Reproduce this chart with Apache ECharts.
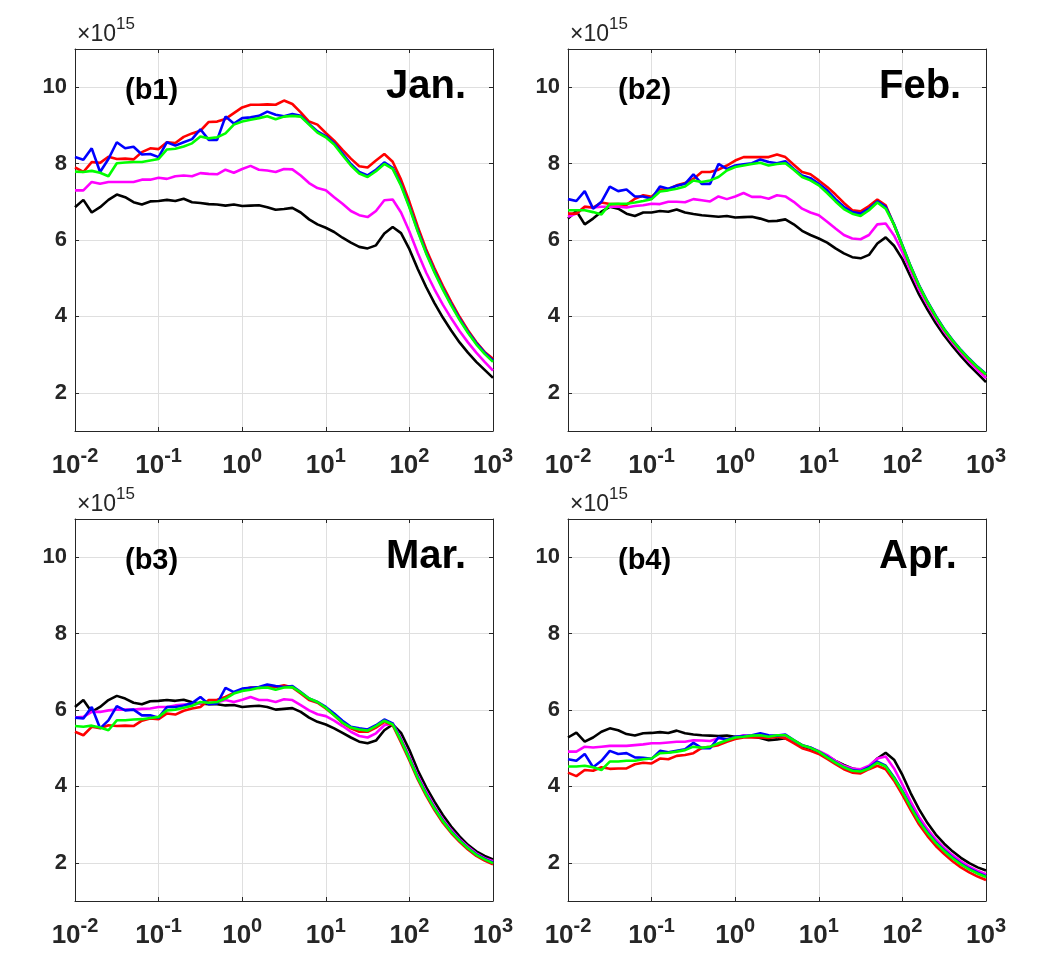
<!DOCTYPE html>
<html>
<head>
<meta charset="utf-8">
<script src="https://cdn.jsdelivr.net/npm/echarts@6/dist/echarts.min.js"></script>
<style>html,body{margin:0;padding:0;background:#fff}#c{width:1050px;height:960px}</style>
</head>
<body>
<div id="c"></div>
<script>
// sample grid: 10 points per decade from 10^-2 to 10^3 (exponents)
const freqExponents = Array.from({length: 51}, (_, k) => -2 + k / 10);
const yTicks = [2, 4, 6, 8, 10];
const panelTags = ['(b1)', '(b2)', '(b3)', '(b4)'];
const monthNames = ['Jan.', 'Feb.', 'Mar.', 'Apr.'];
const seriesKeys = ['black', 'magenta', 'red', 'blue', 'green'];
const seriesColors = {black: '#000000', magenta: '#ff00ff', red: '#ff0000', blue: '#0000ff', green: '#00ff00'};

// values in units of 1e15
const janRed = [7.9,7.78,8.04,8.02,8.18,8.12,8.13,8.11,8.3,8.4, 8.38,8.56,8.54,8.7,8.79,8.86,9.09,9.1,9.17,9.32, 9.47,9.54,9.54,9.55,9.54,9.65,9.56,9.34,9.1,9.02, 8.8,8.6,8.36,8.13,7.93,7.9,8.08,8.25,8.05,7.58, 7.0,6.35,5.76,5.26,4.8,4.38,3.99,3.64,3.33,3.07,2.89];
const janBlue = [8.17,8.1,8.4,7.78,8.12,8.56,8.4,8.44,8.24,8.25, 8.17,8.56,8.47,8.56,8.64,8.9,8.62,8.62,9.23,9.05, 9.19,9.21,9.25,9.36,9.28,9.24,9.3,9.25,9.04,8.84, 8.72,8.53,8.26,7.99,7.78,7.69,7.84,8.03,7.89,7.45, 6.88,6.25,5.68,5.18,4.73,4.32,3.94,3.6,3.3,3.05,2.84];
const janGreen = [7.79,7.78,7.81,7.76,7.67,8.01,8.03,8.04,8.04,8.08, 8.12,8.37,8.39,8.45,8.53,8.71,8.66,8.69,8.79,9.02, 9.1,9.15,9.19,9.24,9.16,9.23,9.25,9.23,9.02,8.81, 8.69,8.5,8.22,7.95,7.74,7.65,7.8,7.99,7.86,7.42, 6.85,6.22,5.65,5.15,4.7,4.29,3.91,3.57,3.27,3.02,2.81];
const janMagenta = [7.3,7.3,7.52,7.47,7.52,7.52,7.52,7.52,7.58,7.58, 7.63,7.6,7.67,7.69,7.67,7.75,7.73,7.72,7.84,7.76, 7.86,7.94,7.84,7.82,7.78,7.86,7.85,7.69,7.49,7.36, 7.3,7.12,6.95,6.76,6.65,6.6,6.76,7.04,7.06,6.72, 6.22,5.66,5.15,4.71,4.31,3.95,3.62,3.32,3.05,2.81,2.58];
const janBlack = [6.86,7.05,6.72,6.86,7.05,7.19,7.12,6.99,6.93,7.01, 7.02,7.05,7.02,7.08,6.99,6.97,6.94,6.93,6.9,6.93, 6.89,6.9,6.91,6.86,6.79,6.81,6.84,6.72,6.54,6.41, 6.32,6.21,6.06,5.93,5.82,5.78,5.86,6.17,6.34,6.18, 5.76,5.24,4.77,4.35,3.97,3.63,3.32,3.05,2.81,2.6,2.39];

const febRed = [6.69,6.69,6.87,6.85,6.98,6.94,6.94,6.92,7.08,7.17, 7.13,7.32,7.33,7.43,7.49,7.6,7.78,7.78,7.84,7.95, 8.08,8.17,8.17,8.17,8.17,8.24,8.17,7.97,7.78,7.72, 7.56,7.39,7.19,6.97,6.78,6.75,6.89,7.06,6.91,6.39, 5.84,5.29,4.79,4.37,3.99,3.65,3.36,3.1,2.87,2.66,2.47];
const febBlue = [7.07,7.02,7.28,6.82,7.0,7.4,7.28,7.32,7.14,7.14, 7.08,7.4,7.34,7.42,7.47,7.72,7.47,7.47,7.99,7.86, 7.95,7.98,8.01,8.11,8.04,8.01,8.06,7.86,7.69,7.62, 7.47,7.3,7.07,6.87,6.73,6.69,6.82,7.01,6.87,6.41, 5.86,5.31,4.81,4.39,4.01,3.67,3.38,3.12,2.89,2.68,2.49];
const febGreen = [6.78,6.78,6.78,6.73,6.67,6.94,6.95,6.95,6.98,7.02, 7.07,7.27,7.3,7.34,7.4,7.56,7.52,7.56,7.65,7.82, 7.91,7.95,7.99,8.02,7.95,7.99,8.01,7.84,7.65,7.56, 7.43,7.23,7.01,6.81,6.69,6.63,6.78,6.98,6.82,6.4, 5.85,5.3,4.8,4.38,4.0,3.66,3.37,3.11,2.88,2.67,2.48];
const febMagenta = [6.61,6.69,6.87,6.85,6.87,6.87,6.87,6.85,6.89,6.91, 6.95,6.94,7.0,7.0,6.99,7.07,7.04,7.01,7.14,7.07, 7.14,7.23,7.13,7.13,7.08,7.17,7.14,7.0,6.82,6.72, 6.65,6.48,6.3,6.13,6.04,6.02,6.13,6.41,6.43,6.12, 5.68,5.18,4.7,4.3,3.93,3.6,3.31,3.05,2.81,2.59,2.38];
const febBlack = [6.56,6.76,6.41,6.56,6.74,6.87,6.82,6.69,6.63,6.72, 6.72,6.76,6.74,6.8,6.72,6.68,6.65,6.63,6.61,6.63, 6.59,6.6,6.61,6.56,6.49,6.5,6.54,6.41,6.24,6.13, 6.04,5.93,5.78,5.65,5.55,5.52,5.61,5.91,6.07,5.85, 5.5,5.03,4.57,4.18,3.82,3.5,3.22,2.96,2.72,2.5,2.28];

const marRed = [5.43,5.34,5.56,5.52,5.6,5.58,5.59,5.58,5.72,5.78, 5.76,5.91,5.88,5.98,6.04,6.08,6.26,6.27,6.34,6.45, 6.53,6.59,6.58,6.6,6.6,6.65,6.59,6.43,6.26,6.19, 6.04,5.86,5.66,5.52,5.43,5.43,5.54,5.69,5.6,5.15, 4.68,4.18,3.76,3.38,3.05,2.78,2.55,2.35,2.18,2.06,1.96];
const marBlue = [5.8,5.78,6.08,5.52,5.73,6.1,5.99,6.01,5.86,5.86, 5.8,6.08,6.08,6.12,6.18,6.34,6.15,6.17,6.58,6.47, 6.56,6.58,6.6,6.67,6.63,6.6,6.63,6.47,6.3,6.21, 6.08,5.91,5.72,5.56,5.52,5.49,5.6,5.75,5.65,5.21, 4.73,4.23,3.81,3.43,3.1,2.82,2.59,2.39,2.22,2.1,2.0];
const marGreen = [5.58,5.56,5.59,5.54,5.47,5.73,5.73,5.75,5.76,5.79, 5.82,5.99,6.01,6.06,6.11,6.21,6.19,6.21,6.3,6.43, 6.5,6.53,6.58,6.59,6.53,6.59,6.6,6.46,6.3,6.21, 6.06,5.86,5.67,5.54,5.49,5.46,5.58,5.72,5.62,5.2, 4.72,4.22,3.8,3.42,3.09,2.81,2.58,2.38,2.21,2.09,1.99];
const marMagenta = [5.8,5.82,5.95,5.95,5.99,6.01,6.01,6.01,6.03,6.04, 6.08,6.08,6.12,6.14,6.14,6.17,6.19,6.2,6.26,6.21, 6.27,6.34,6.26,6.26,6.21,6.28,6.26,6.13,5.99,5.89, 5.84,5.72,5.58,5.43,5.32,5.28,5.39,5.6,5.65,5.25, 4.78,4.28,3.86,3.47,3.14,2.86,2.62,2.42,2.25,2.12,2.04];
const marBlack = [6.08,6.26,5.95,6.08,6.26,6.37,6.3,6.19,6.15,6.23, 6.24,6.26,6.24,6.27,6.2,6.17,6.15,6.15,6.12,6.13, 6.08,6.1,6.11,6.08,6.01,6.03,6.05,5.95,5.8,5.69, 5.62,5.52,5.4,5.28,5.17,5.13,5.2,5.47,5.62,5.4, 4.95,4.42,3.98,3.6,3.25,2.95,2.69,2.47,2.3,2.18,2.09];

const aprRed = [4.36,4.27,4.43,4.41,4.5,4.46,4.47,4.47,4.58,4.62, 4.6,4.73,4.71,4.8,4.82,4.87,5.01,5.04,5.08,5.17, 5.24,5.28,5.28,5.28,5.27,5.3,5.26,5.13,5.0,4.93, 4.85,4.72,4.58,4.45,4.36,4.34,4.45,4.54,4.45,4.15, 3.78,3.38,3.0,2.7,2.44,2.23,2.04,1.88,1.75,1.64,1.55];
const aprBlue = [4.71,4.67,4.85,4.5,4.67,4.93,4.85,4.87,4.76,4.75, 4.72,4.93,4.89,4.93,4.97,5.14,5.0,5.0,5.28,5.23, 5.3,5.32,5.34,5.39,5.34,5.33,5.36,5.21,5.08,5.02, 4.91,4.78,4.63,4.5,4.43,4.4,4.5,4.65,4.54,4.24, 3.88,3.48,3.1,2.8,2.54,2.33,2.14,1.98,1.85,1.74,1.65];
const aprGreen = [4.52,4.52,4.54,4.5,4.43,4.65,4.65,4.67,4.67,4.71, 4.73,4.87,4.88,4.91,4.95,5.04,5.01,5.04,5.13,5.21, 5.28,5.3,5.33,5.34,5.3,5.34,5.34,5.21,5.08,5.01, 4.91,4.76,4.62,4.5,4.41,4.39,4.47,4.62,4.52,4.22, 3.86,3.46,3.08,2.78,2.52,2.31,2.12,1.96,1.83,1.72,1.63];
const aprMagenta = [4.91,4.91,5.04,5.02,5.04,5.06,5.06,5.06,5.08,5.1, 5.13,5.13,5.15,5.17,5.17,5.21,5.2,5.19,5.26,5.23, 5.28,5.34,5.3,5.3,5.28,5.32,5.3,5.2,5.08,5.01, 4.93,4.82,4.67,4.54,4.47,4.45,4.54,4.73,4.78,4.47, 4.05,3.6,3.2,2.88,2.61,2.39,2.2,2.04,1.9,1.79,1.7];
const aprBlack = [5.28,5.41,5.17,5.28,5.43,5.52,5.47,5.37,5.33,5.39, 5.4,5.42,5.4,5.46,5.39,5.36,5.34,5.33,5.32,5.33, 5.3,5.3,5.3,5.27,5.21,5.23,5.26,5.17,5.04,4.95, 4.88,4.8,4.67,4.56,4.47,4.43,4.5,4.73,4.88,4.7, 4.3,3.82,3.4,3.04,2.74,2.5,2.3,2.13,1.99,1.88,1.8];

const panels = [
  {black: janBlack, magenta: janMagenta, red: janRed, blue: janBlue, green: janGreen},
  {black: febBlack, magenta: febMagenta, red: febRed, blue: febBlue, green: febGreen},
  {black: marBlack, magenta: marMagenta, red: marRed, blue: marBlue, green: marGreen},
  {black: aprBlack, magenta: aprMagenta, red: aprRed, blue: aprBlue, green: aprGreen}
];

const FONT = 'Liberation Sans, Arial, Helvetica, sans-serif';
const AX = '#262626';
const GRIDC = '#dfdfdf';
const boxes = [
  {left: 75, top: 49}, {left: 568, top: 49},
  {left: 75, top: 519}, {left: 568, top: 519}
];
const W = 418, H = 382;

const chart = echarts.init(document.getElementById('c'), null, {renderer: 'canvas'});
const grid = [], xAxis = [], yAxis = [], series = [], graphic = [];

boxes.forEach((b, i) => {
  grid.push({left: b.left, top: b.top, width: W, height: H, containLabel: false});
  const xBase = {
    type: 'log', logBase: 10, gridIndex: i, min: 0.01, max: 1000, splitNumber: 5,
    axisLine: {show: true, onZero: false, lineStyle: {color: AX, width: 1}},
    axisTick: {show: true, inside: true, length: 4, lineStyle: {color: AX}},
    minorTick: {show: false}, minorSplitLine: {show: false}
  };
  xAxis.push(Object.assign({}, xBase, {
    position: 'bottom',
    splitLine: {show: true, lineStyle: {color: GRIDC, width: 1}},
    axisLabel: {
      show: true, margin: 15,
      formatter: v => '{b|10}{s|' + Math.round(Math.log10(v)) + '}',
      rich: {
        b: {fontSize: 26, lineHeight: 40, fontWeight: 'bold', color: AX, fontFamily: FONT},
        s: {fontSize: 20, lineHeight: 20, verticalAlign: 'top', fontWeight: 'bold', color: AX, fontFamily: FONT}
      }
    }
  }));
  xAxis.push(Object.assign({}, xBase, {
    position: 'top', splitLine: {show: false}, axisLabel: {show: false}
  }));
  const yBase = {
    type: 'value', gridIndex: i, min: 1, max: 11,
    axisLine: {show: true, onZero: false, lineStyle: {color: AX, width: 1}},
    axisTick: {show: true, inside: true, length: 4, customValues: yTicks, lineStyle: {color: AX}}
  };
  yAxis.push(Object.assign({}, yBase, {
    position: 'left',
    splitLine: {show: true, lineStyle: {color: GRIDC, width: 1}},
    axisLabel: {show: true, customValues: yTicks, margin: 8, fontSize: 22, fontWeight: 'bold', color: AX, fontFamily: FONT}
  }));
  yAxis.push(Object.assign({}, yBase, {
    position: 'right', splitLine: {show: false}, axisLabel: {show: false}
  }));

  seriesKeys.forEach(key => {
    const vals = panels[i][key];
    series.push({
      type: 'line', name: key + i, xAxisIndex: 2 * i, yAxisIndex: 2 * i,
      data: freqExponents.map((e, k) => [Math.pow(10, e), vals[k]]),
      showSymbol: false, symbol: 'none', smooth: false,
      lineStyle: {width: 2.6, color: seriesColors[key]},
      itemStyle: {color: seriesColors[key]},
      emphasis: {disabled: true}, animation: false
    });
  });

  graphic.push({
    type: 'text', x: b.left + 2, y: b.top - 14.5, z: 100, silent: true,
    style: {
      text: '{a|×10}{s|15}', verticalAlign: 'middle', align: 'left',
      rich: {
        a: {fontSize: 23, lineHeight: 38, fontFamily: FONT, fill: AX, color: AX},
        s: {fontSize: 17, lineHeight: 17, verticalAlign: 'top', fontFamily: FONT, fill: AX, color: AX}
      }
    }
  });
  graphic.push({
    type: 'text', x: b.left + 50, y: b.top + 41.5, z: 100, silent: true,
    style: {text: panelTags[i], fontSize: 29, fontWeight: 'bold', fontFamily: FONT, fill: '#000', verticalAlign: 'middle', align: 'left'}
  });
  graphic.push({
    type: 'text', x: b.left + 311, y: b.top + 37.5, z: 100, silent: true,
    style: {text: monthNames[i], fontSize: 40, fontWeight: 'bold', fontFamily: FONT, fill: '#000', verticalAlign: 'middle', align: 'left'}
  });
});

chart.setOption({
  animation: false,
  backgroundColor: '#ffffff',
  grid, xAxis, yAxis, series, graphic
});
</script>
</body>
</html>
